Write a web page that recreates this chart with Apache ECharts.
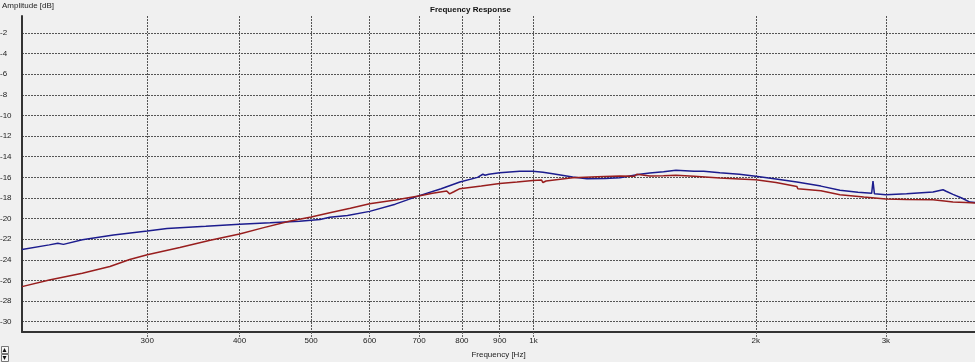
<!DOCTYPE html>
<html><head><meta charset="utf-8">
<script src="https://cdn.jsdelivr.net/npm/echarts@6/dist/echarts.min.js"></script>
<style>html,body{margin:0;padding:0;background:#f0f0f0;overflow:hidden;}#c{width:975px;height:362px;}</style>
</head><body><div id="c"></div>
<script>
// Blue trace (frequency in Hz, amplitude in dB)
const freqBlue = [203,221,227,231,245,270,300,319,360,400,440,482,514,530,560,600,650,699,750,795,840,854,860,870,900,958,998,1030,1062,1130,1181,1250,1309,1393,1437,1500,1559,1650,1700,1710,1788,1900,2000,2130,2273,2450,2600,2750,2870,2882,2895,3000,3010,3200,3475,3585,3620,3640,3698,3800,3898,3961];
const ampBlue  = [-23.0,-22.55,-22.4,-22.5,-22.05,-21.6,-21.2,-20.96,-20.75,-20.54,-20.4,-20.25,-20.08,-19.86,-19.7,-19.3,-18.6,-17.8,-17.1,-16.45,-16.0,-15.7,-15.8,-15.7,-15.55,-15.4,-15.4,-15.5,-15.65,-15.97,-16.13,-16.1,-16.03,-15.7,-15.58,-15.45,-15.32,-15.4,-15.42,-15.25,-15.55,-15.7,-15.9,-16.15,-16.45,-16.85,-17.26,-17.45,-17.55,-16.36,-17.6,-17.68,-17.5,-17.6,-17.43,-17.2,-17.35,-17.4,-17.65,-18.0,-18.4,-18.45];
// Red trace
const freqRed = [203,221,245,267,284,300,332,365,400,430,467,500,530,565,600,650,699,730,763,770,780,795,850,900,950,998,1025,1030,1040,1080,1130,1220,1309,1370,1380,1437,1500,1559,1650,1788,1900,2000,2130,2273,2280,2450,2600,2800,3000,3200,3475,3600,3698,3850,3961];
const ampRed  = [-26.6,-25.95,-25.3,-24.65,-23.97,-23.5,-22.8,-22.1,-21.5,-20.9,-20.25,-19.85,-19.43,-19.0,-18.56,-18.2,-17.8,-17.55,-17.33,-17.6,-17.4,-17.1,-16.85,-16.6,-16.45,-16.3,-16.25,-16.5,-16.35,-16.2,-16.03,-15.95,-15.87,-15.9,-15.7,-15.87,-15.85,-15.8,-15.9,-16.07,-16.15,-16.23,-16.5,-16.88,-17.1,-17.3,-17.68,-17.9,-18.1,-18.15,-18.17,-18.3,-18.4,-18.45,-18.5];
// Tick labels
const xTicks = [300,400,500,600,700,800,900,1000,2000,3000];
const xTickLabels = ['300','400','500','600','700','800','900','1k','2k','3k'];
const yTicks = [-30,-28,-26,-24,-22,-20,-18,-16,-14,-12,-10,-8,-6,-4,-2];

const zip = (a,b) => a.map((v,i)=>[v,b[i]]);
const font = 'Liberation Sans, Arial, sans-serif';
const chart = echarts.init(document.getElementById('c'));
chart.setOption({
  backgroundColor: '#f0f0f0',
  animation: false,
  grid: {left: 22, right: 0, top: 16, bottom: 30, containLabel: false, outerBoundsMode: 'none'},
  xAxis: {
    type: 'log', logBase: 10, min: 203, max: 3961,
    name: 'Frequency [Hz]', nameLocation: 'middle', nameGap: 19,
    nameTextStyle: {fontFamily: font, fontSize: 8, color: '#222'},
    axisLine: {show: true, onZero: false, lineStyle: {color: '#333', width: 2}},
    axisTick: {show: true, customValues: xTicks, length: 5, lineStyle: {color: '#666', type: [2,1], width: 1}},
    axisLabel: {customValues: xTicks, fontFamily: font, fontSize: 8, color: '#222', margin: 5,
      formatter: v => { const i = xTicks.indexOf(Math.round(v)); return i>=0 ? xTickLabels[i] : ''; }},
    splitLine: {show: true, lineStyle: {color: '#555', type: [2,1], width: 1}},
    minorTick: {show: false}
  },
  yAxis: {
    type: 'value', min: -31, max: -0.35,
    axisLine: {show: true, lineStyle: {color: '#333', width: 2}},
    axisTick: {show: false, customValues: yTicks},
    axisLabel: {customValues: yTicks, fontFamily: font, fontSize: 8, color: '#222', align: 'left', margin: 22},
    splitLine: {show: true, lineStyle: {color: '#555', type: [2,1], width: 1}}
  },
  graphic: [
    {type: 'text', left: 430, top: 6, style: {text: 'Frequency Response', font: 'bold 8px ' + font, fill: '#111'}},
    {type: 'text', left: 2, top: 2, style: {text: 'Amplitude [dB]', font: '8px ' + font, fill: '#222'}},
    {type: 'rect', left: 1, top: 346, shape: {width: 7, height: 7}, style: {fill: '#f8f8f8', stroke: '#777', lineWidth: 1}},
    {type: 'polygon', shape: {points: [[2.5,352],[4.5,348],[6.5,352]]}, style: {fill: '#111'}},
    {type: 'rect', left: 1, top: 354, shape: {width: 7, height: 7}, style: {fill: '#f8f8f8', stroke: '#777', lineWidth: 1}},
    {type: 'polygon', shape: {points: [[2.5,356],[4.5,360],[6.5,356]]}, style: {fill: '#111'}}
  ],
  series: [
    {type: 'line', data: zip(freqBlue, ampBlue), showSymbol: false, lineStyle: {color: '#1c1c8e', width: 1.5}, itemStyle: {color: '#1c1c8e'}, clip: true},
    {type: 'line', data: zip(freqRed, ampRed), showSymbol: false, lineStyle: {color: '#981e1e', width: 1.5}, itemStyle: {color: '#981e1e'}, clip: true}
  ]
});
</script></body></html>
